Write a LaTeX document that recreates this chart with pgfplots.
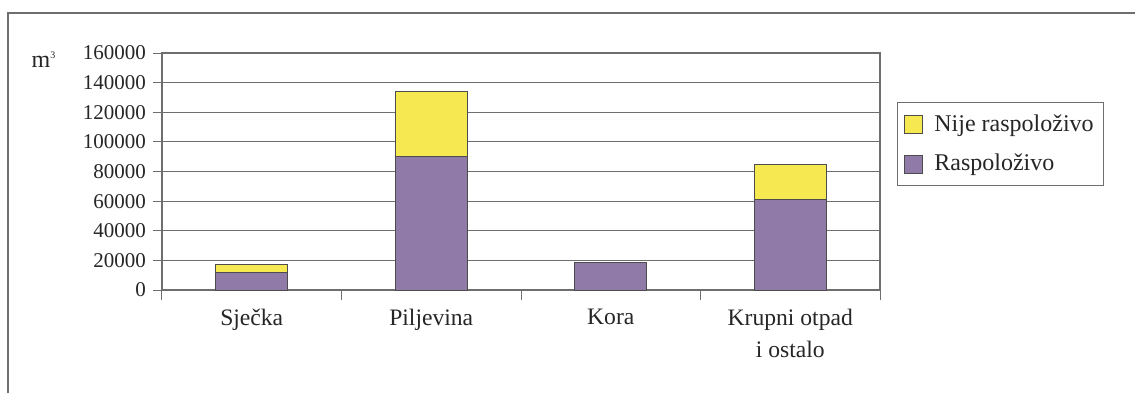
\documentclass[border=0pt]{standalone}
\usepackage{fontspec}
\setmainfont{Liberation Serif}
\usepackage{pgfplots}
\pgfplotsset{compat=1.18}
\definecolor{ylw}{RGB}{245,232,80}
\definecolor{prp}{RGB}{143,122,168}
\definecolor{frm}{RGB}{110,110,110}
\begin{document}
\begin{tikzpicture}
\useasboundingbox (0,0) rectangle (567.5pt,196.5pt);
\fill[white] (0,0) rectangle (567.5pt,196.5pt);
\draw[frm, line width=1pt] (4pt,0) -- (4pt,190pt) -- (567.5pt,190pt);
\begin{axis}[
  at={(81pt,51.5pt)}, anchor=south west,
  scale only axis, width=359pt, height=118.5pt,
  ybar stacked, bar width=0.4,
  xmin=-0.5, xmax=3.5, ymin=0, ymax=160000,
  ytick={0,20000,...,160000},
  scaled y ticks=false,
  yticklabel style={/pgf/number format/fixed, /pgf/number format/1000 sep={}, font=\fontsize{10.5}{12}\selectfont, text=black!85},
  /pgf/number format/assume math mode=true,
  xtick={0,1,2,3},
  xticklabels={Sječka, Piljevina, Kora, {Krupni otpad\\i ostalo}},
  xticklabel style={align=center, font=\fontsize{11.8}{16}\selectfont, text=black!85, yshift=-1.5pt},
  minor xtick={-0.5,0.5,1.5,2.5,3.5},
  xtick pos=bottom, ytick pos=left,
  tick align=outside,
  major tick length=4.5pt, minor tick length=5pt,
  x tick style={draw=none},
  minor x tick style={draw=frm, line width=0.5pt},
  y tick style={draw=frm, line width=0.5pt},
  ymajorgrids, grid style={frm, line width=0.6pt},
  axis line style={frm, line width=0.6pt},
  reverse legend,
  legend cell align=left,
  legend style={at={(rel axis cs:1.0237,0.793)}, anchor=north west, draw=frm, line width=0.5pt,
    font=\fontsize{12}{14}\selectfont, text=black!85, inner xsep=3pt, inner ysep=4pt, row sep=6pt},
  legend image code/.code={\draw[#1, draw=black!70, line width=0.4pt] (2pt,-4.5pt) rectangle (11pt,4.5pt); \path (15pt,0);},
  clip=false,
]
\addplot[fill=prp, draw=black!70, line width=0.5pt] coordinates {(0,12000) (1,90000) (2,18500) (3,61000)};
\addplot[fill=ylw, draw=black!70, line width=0.5pt] coordinates {(0,5000) (1,44000) (2,0) (3,24000)};
\legend{Raspoloživo, Nije raspoloživo}
\node[font=\fontsize{12}{14}\selectfont, text=black!85] at ([xshift=-59pt,yshift=-3.5pt]rel axis cs:0,1) {m\textsuperscript{\fontsize{5}{6}\selectfont 3}};
\end{axis}
\end{tikzpicture}
\end{document}
